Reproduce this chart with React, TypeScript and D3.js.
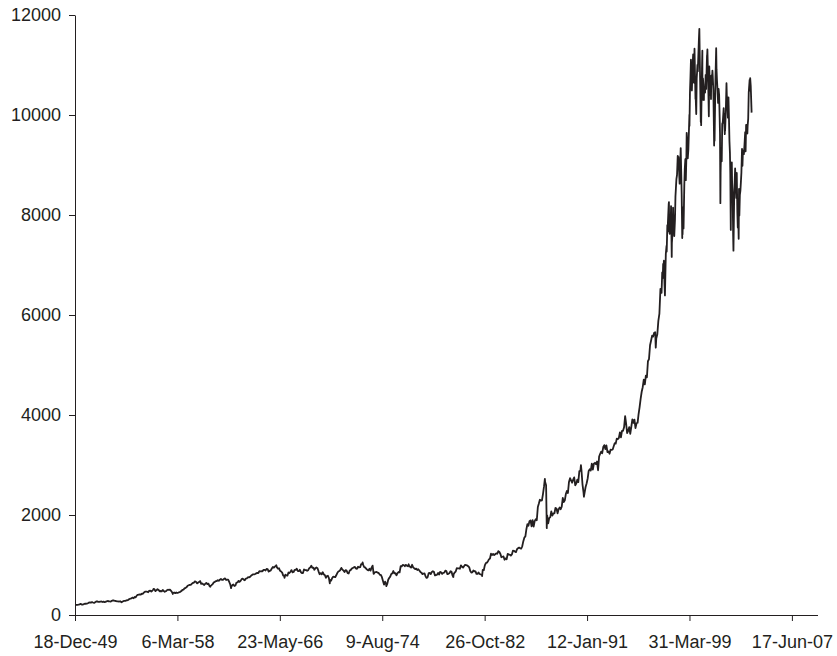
import React, { useRef, useEffect } from "react";
import * as d3 from "d3";

// Dow Jones Industrial Average, month-end closes
const dow1950s = [
  202, 203, 206, 214, 223, 209, 209, 217, 226, 225, 227, 235,
  249, 252, 248, 259, 250, 242, 257, 270, 271, 262, 261, 269,
  270, 260, 269, 257, 262, 274, 280, 275, 271, 269, 284, 291,
  290, 284, 280, 274, 272, 268, 275, 261, 264, 276, 281, 281,
  292, 295, 304, 320, 328, 334, 348, 336, 361, 352, 387, 404,
  409, 412, 410, 426, 425, 451, 466, 468, 466, 455, 483, 488,
  470, 484, 511, 516, 478, 493, 518, 502, 475, 480, 472, 500,
  480, 465, 475, 494, 505, 503, 508, 484, 456, 441, 450, 436,
  450, 440, 447, 456, 463, 478, 503, 509, 532, 543, 557, 584,
  594, 603, 602, 624, 644, 644, 674, 665, 632, 647, 659, 679,
];

const dow1960s = [
  623, 630, 616, 601, 625, 641, 617, 626, 580, 580, 597, 616,
  648, 662, 677, 679, 697, 684, 705, 720, 701, 704, 722, 731,
  700, 708, 707, 665, 613, 561, 597, 609, 579, 590, 649, 652,
  683, 662, 682, 718, 727, 707, 695, 729, 733, 755, 751, 763,
  785, 800, 813, 811, 821, 832, 841, 839, 875, 873, 875, 874,
  903, 903, 889, 922, 918, 868, 882, 893, 931, 961, 947, 969,
  984, 952, 925, 934, 884, 870, 847, 788, 774, 807, 792, 786,
  850, 839, 866, 898, 853, 860, 904, 901, 927, 880, 876, 905,
  856, 840, 840, 912, 899, 898, 883, 896, 936, 952, 985, 944,
  946, 905, 935, 950, 937, 873, 816, 837, 813, 856, 812, 800,
];

const dow1970s = [
  744, 778, 785, 736, 700, 684, 734, 765, 761, 756, 794, 839,
  869, 879, 904, 942, 907, 891, 858, 898, 887, 839, 831, 890,
  902, 928, 941, 954, 961, 929, 925, 964, 953, 956, 1018, 1020,
  999, 955, 951, 921, 901, 892, 926, 888, 947, 987, 822, 851,
  856, 860, 847, 837, 802, 802, 757, 679, 608, 666, 619, 616,
  704, 739, 768, 821, 832, 879, 832, 835, 794, 836, 860, 852,
  975, 973, 1000, 997, 975, 1003, 985, 974, 990, 965, 947, 1004,
  954, 936, 919, 927, 899, 916, 890, 862, 847, 818, 829, 831,
  770, 742, 757, 837, 840, 819, 862, 876, 865, 792, 799, 805,
  839, 808, 862, 855, 822, 842, 846, 888, 878, 816, 822, 839,
];

const dow1980s = [
  876, 863, 786, 817, 851, 868, 935, 933, 932, 925, 993, 964,
  947, 975, 1004, 998, 992, 977, 953, 882, 850, 853, 889, 875,
  871, 824, 822, 849, 820, 812, 809, 901, 896, 992, 1039, 1047,
  1076, 1113, 1130, 1226, 1200, 1222, 1199, 1216, 1233, 1225, 1276, 1259,
  1221, 1155, 1165, 1171, 1105, 1132, 1115, 1224, 1207, 1207, 1189, 1212,
  1287, 1284, 1267, 1258, 1315, 1336, 1348, 1334, 1329, 1374, 1472, 1547,
  1571, 1710, 1819, 1784, 1877, 1893, 1775, 1898, 1768, 1878, 1914, 1896,
  2158, 2224, 2305, 2286, 2292, 2419, 2572, 2663, 2596, 1994, 1834, 1939,
  1958, 2072, 1988, 2032, 2031, 2142, 2129, 2032, 2113, 2149, 2115, 2169,
  2342, 2258, 2294, 2419, 2480, 2440, 2661, 2737, 2693, 2645, 2706, 2753,
];

const dow1990to1996 = [
  2591, 2627, 2707, 2657, 2877, 2881, 2905, 2614, 2453, 2442, 2560, 2634,
  2736, 2882, 2914, 2888, 3028, 2907, 3025, 3044, 3017, 3069, 2895, 3169,
  3224, 3268, 3236, 3359, 3397, 3319, 3394, 3257, 3272, 3226, 3305, 3301,
  3310, 3371, 3435, 3428, 3527, 3516, 3540, 3651, 3555, 3681, 3684, 3754,
  3978, 3832, 3636, 3682, 3758, 3625, 3765, 3913, 3843, 3908, 3739, 3834,
  3844, 4011, 4158, 4321, 4465, 4556, 4709, 4611, 4789, 4756, 5075, 5117,
  5395, 5486, 5587, 5569, 5643, 5655, 5529, 5616, 5882, 6029, 6522, 6448,
];

// daily highs and lows that stand out from the monthly line
const dowSwings: [string, number][] = [
  ["1950-01-03", 199], ["1953-09-14", 255], ["1956-04-06", 521],
  ["1957-10-22", 420], ["1960-10-25", 566], ["1962-06-26", 536],
  ["1966-02-09", 995], ["1966-10-07", 744], ["1970-05-26", 631],
  ["1973-01-11", 1052], ["1974-12-06", 577], ["1976-09-21", 1015],
  ["1978-02-28", 742], ["1980-04-21", 759], ["1982-08-12", 777],
  ["1987-08-25", 2722], ["1987-10-19", 1738], ["1990-07-16", 2999],
  ["1990-10-11", 2365], ["1996-07-16", 5346],
];

// the volatile stretch, with intra-month swings
const dow1997to2004: [string, number][] = [
  ["1997-01-02", 6442], ["1997-01-21", 6850], ["1997-01-31", 6813],
  ["1997-02-06", 6740], ["1997-02-18", 7022], ["1997-02-28", 6877],
  ["1997-03-11", 7085], ["1997-03-31", 6584],
  ["1997-04-11", 6391], ["1997-04-30", 7009],
  ["1997-05-07", 7225], ["1997-05-28", 7383],
  ["1997-06-02", 7269], ["1997-06-20", 7796], ["1997-06-30", 7673],
  ["1997-07-08", 7860], ["1997-07-31", 8223],
  ["1997-08-06", 8259], ["1997-08-15", 7694], ["1997-08-29", 7622],
  ["1997-09-12", 7880], ["1997-09-30", 7945],
  ["1997-10-07", 8178], ["1997-10-27", 7161], ["1997-10-31", 7442],
  ["1997-11-12", 7558], ["1997-11-28", 7823],
  ["1997-12-05", 8149], ["1997-12-18", 7756], ["1997-12-31", 7908],
  ["1998-01-09", 7580], ["1998-01-30", 7907],
  ["1998-02-13", 8370], ["1998-02-27", 8546],
  ["1998-03-13", 8718], ["1998-03-31", 8800],
  ["1998-04-21", 9184], ["1998-04-30", 9063],
  ["1998-05-13", 9161], ["1998-05-29", 8900],
  ["1998-06-15", 8627], ["1998-06-30", 8952],
  ["1998-07-17", 9338], ["1998-07-31", 8883],
  ["1998-08-14", 8425], ["1998-08-31", 7539],
  ["1998-09-08", 8154], ["1998-09-10", 7615], ["1998-09-23", 8154], ["1998-09-30", 7843],
  ["1998-10-08", 7732], ["1998-10-30", 8592],
  ["1998-11-13", 8919], ["1998-11-30", 9117],
  ["1998-12-14", 8696], ["1998-12-31", 9181],
  ["1999-01-08", 9643], ["1999-01-29", 9359],
  ["1999-02-09", 9133], ["1999-02-26", 9307],
  ["1999-03-29", 10006], ["1999-03-31", 9786],
  ["1999-04-14", 10462], ["1999-04-30", 10789],
  ["1999-05-13", 11107], ["1999-05-28", 10560],
  ["1999-06-09", 10490], ["1999-06-30", 10971],
  ["1999-07-16", 11210], ["1999-07-30", 10655],
  ["1999-08-10", 10646], ["1999-08-25", 11327],
  ["1999-09-23", 10318], ["1999-09-30", 10337],
  ["1999-10-15", 10019], ["1999-10-29", 10729],
  ["1999-11-19", 11003], ["1999-11-30", 10878],
  ["1999-12-31", 11497],
  ["2000-01-14", 11723], ["2000-01-31", 10941],
  ["2000-02-25", 9862], ["2000-02-29", 10128],
  ["2000-03-07", 9796], ["2000-03-31", 10922],
  ["2000-04-11", 11287], ["2000-04-14", 10305], ["2000-04-28", 10734],
  ["2000-05-12", 10610], ["2000-05-26", 10300], ["2000-05-31", 10522],
  ["2000-06-16", 10450], ["2000-06-30", 10448],
  ["2000-07-17", 10804], ["2000-07-31", 10522],
  ["2000-08-25", 11182], ["2000-08-31", 11215],
  ["2000-09-06", 11310], ["2000-09-29", 10651],
  ["2000-10-18", 9975], ["2000-10-31", 10971],
  ["2000-11-22", 10399], ["2000-11-30", 10415],
  ["2000-12-11", 10725], ["2000-12-20", 10318], ["2000-12-29", 10788],
  ["2001-01-11", 10610], ["2001-01-31", 10887],
  ["2001-02-09", 10781], ["2001-02-28", 10495],
  ["2001-03-22", 9389], ["2001-03-30", 9879],
  ["2001-04-04", 9485], ["2001-04-30", 10735],
  ["2001-05-21", 11337], ["2001-05-31", 10912],
  ["2001-06-14", 10690], ["2001-06-29", 10502],
  ["2001-07-16", 10241], ["2001-07-31", 10523],
  ["2001-08-16", 10392], ["2001-08-31", 9950],
  ["2001-09-10", 9606], ["2001-09-21", 8236], ["2001-09-28", 8848],
  ["2001-10-12", 9345], ["2001-10-31", 9075],
  ["2001-11-14", 9823], ["2001-11-30", 9852],
  ["2001-12-27", 10137], ["2001-12-31", 10022],
  ["2002-01-29", 9618], ["2002-01-31", 9920],
  ["2002-02-06", 9687], ["2002-02-28", 10106],
  ["2002-03-19", 10635], ["2002-03-28", 10404],
  ["2002-04-16", 10208], ["2002-04-30", 9946],
  ["2002-05-16", 10353], ["2002-05-31", 9925],
  ["2002-06-14", 9474], ["2002-06-28", 9243],
  ["2002-07-09", 8813], ["2002-07-23", 7702], ["2002-07-31", 8737],
  ["2002-08-22", 9053], ["2002-08-30", 8664],
  ["2002-09-16", 8380], ["2002-09-30", 7592],
  ["2002-10-09", 7286], ["2002-10-31", 8397],
  ["2002-11-27", 8931], ["2002-11-29", 8896],
  ["2002-12-02", 8862], ["2002-12-31", 8342],
  ["2003-01-14", 8842], ["2003-01-31", 8054],
  ["2003-02-13", 7750], ["2003-02-28", 7891],
  ["2003-03-11", 7524], ["2003-03-21", 8522], ["2003-03-31", 7992],
  ["2003-04-15", 8403], ["2003-04-30", 8480],
  ["2003-05-14", 8647], ["2003-05-30", 8850],
  ["2003-06-17", 9323], ["2003-06-30", 8985],
  ["2003-07-14", 9285], ["2003-07-31", 9234],
  ["2003-08-11", 9217], ["2003-08-29", 9415],
  ["2003-09-18", 9659], ["2003-09-30", 9275],
  ["2003-10-15", 9803], ["2003-10-31", 9801],
  ["2003-11-21", 9629], ["2003-11-28", 9782],
  ["2003-12-15", 9923], ["2003-12-31", 10454],
  ["2004-01-26", 10702], ["2004-01-30", 10488],
  ["2004-02-11", 10737], ["2004-02-27", 10584],
  ["2004-03-24", 10048],
];

// axis: Excel date axis, 3000-day major unit
const xAxisStart = "1949-12-18";
const xAxisEnd = "2009-07-06";
const xTickStepDays = 3000;
const xTickCount = 8;
const yTicks = [0, 2000, 4000, 6000, 8000, 10000, 12000];

interface DowPoint {
  date: Date;
  value: number;
}

const parseDate = d3.utcParse("%Y-%m-%d");

function monthEnds(startYear: number, values: number[]): DowPoint[] {
  return values.map((v, i) => ({
    date: new Date(Date.UTC(startYear, i + 1, 0)),
    value: v,
  }));
}

const App: React.FC = () => {
  const svgRef = useRef<SVGSVGElement | null>(null);

  useEffect(() => {
    const svg = d3.select(svgRef.current);
    svg.selectAll("*").remove();

    const ink = "#231f20";
    const font = "'Liberation Sans', Arial, Helvetica, sans-serif";

    const data: DowPoint[] = [
      ...monthEnds(1950, dow1950s),
      ...monthEnds(1960, dow1960s),
      ...monthEnds(1970, dow1970s),
      ...monthEnds(1980, dow1980s),
      ...monthEnds(1990, dow1990to1996),
      ...dowSwings.map(([d, v]) => ({ date: parseDate(d)!, value: v })),
      ...dow1997to2004.map(([d, v]) => ({ date: parseDate(d)!, value: v })),
    ].sort((a, b) => a.date.getTime() - b.date.getTime());

    const start = parseDate(xAxisStart)!;
    const xScale = d3
      .scaleUtc()
      .domain([start, parseDate(xAxisEnd)!])
      .range([75, 817.5]);

    const yScale = d3.scaleLinear().domain([0, 12000]).range([615, 15]);

    const xTicks = d3
      .range(xTickCount)
      .map((i) => d3.utcDay.offset(start, i * xTickStepDays));

    // Y axis
    const yAxis = d3
      .axisLeft(yScale)
      .tickValues(yTicks)
      .tickSize(6)
      .tickSizeOuter(0)
      .tickPadding(8)
      .tickFormat(d3.format("d") as any);
    const gy = svg.append("g").attr("transform", "translate(75,0)").call(yAxis);

    // X axis
    const xAxis = d3
      .axisBottom<Date>(xScale)
      .tickValues(xTicks)
      .tickSize(6)
      .tickSizeOuter(0)
      .tickPadding(14)
      .tickFormat(d3.utcFormat("%-d-%b-%y") as any);
    const gx = svg.append("g").attr("transform", "translate(0,615)").call(xAxis);

    [gx, gy].forEach((g) => {
      g.select(".domain").attr("stroke", ink);
      g.selectAll(".tick line").attr("stroke", ink);
      g.selectAll(".tick text")
        .attr("fill", ink)
        .style("font-family", font)
        .style("font-size", "18px");
    });

    // Line
    const line = d3
      .line<DowPoint>()
      .x((d) => xScale(d.date))
      .y((d) => yScale(d.value));

    svg
      .append("path")
      .datum(data)
      .attr("fill", "none")
      .attr("stroke", ink)
      .attr("stroke-width", 1.8)
      .attr("stroke-linejoin", "round")
      .attr("d", line);
  }, []);

  return (
    <svg
      ref={svgRef}
      width={837}
      height={656}
      style={{ position: "absolute", left: 0, top: 0, background: "#fff" }}
    />
  );
};

export default App;
